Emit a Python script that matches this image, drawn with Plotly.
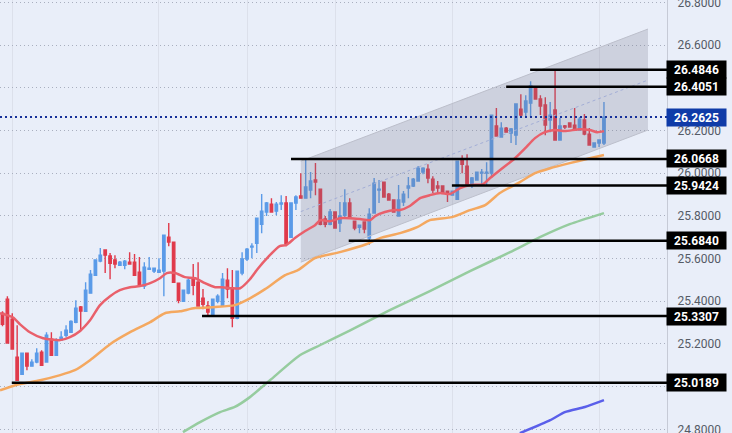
import plotly.graph_objects as go

# daily candles
opens = [25.344, 25.410, 25.316, 25.138, 25.058, 25.157, 25.096, 25.115, 25.162, 25.115,
         25.222, 25.147, 25.218, 25.241, 25.255, 25.302, 25.373, 25.353, 25.438, 25.522,
         25.588, 25.640, 25.612, 25.593, 25.569, 25.569, 25.583, 25.583, 25.536, 25.471,
         25.550, 25.541, 25.536, 25.541, 25.700, 25.677, 25.485, 25.400, 25.438, 25.508,
         25.489, 25.414, 25.378, 25.339, 25.400, 25.378, 25.499, 25.461, 25.320, 25.532,
         25.598, 25.654, 25.672, 25.761, 25.818, 25.855, 25.822, 25.855, 25.860, 25.700,
         25.860, 25.893, 25.883, 25.921, 25.968, 25.925, 25.785, 25.761, 25.818, 25.766,
         25.803, 25.860, 25.775, 25.747, 25.771, 25.696, 25.813, 25.921, 25.958, 25.902,
         25.874, 25.799, 25.865, 25.930, 25.940, 25.963, 26.005, 26.019, 25.972, 25.940,
         25.940, 25.916, 25.897, 25.878, 26.061, 26.033, 25.953, 25.968, 26.000, 26.000,
         26.000, 26.221, 26.169, 26.211, 26.188, 26.178, 26.300, 26.286, 26.328, 26.399,
         26.347, 26.319, 26.249, 26.296, 26.155, 26.221, 26.235, 26.225, 26.202, 26.249,
         26.183, 26.122, 26.141, 26.141]
highs = [25.353, 25.424, 25.344, 25.288, 25.157, 25.157, 25.129, 25.180, 25.171, 25.255,
         25.255, 25.227, 25.260, 25.288, 25.311, 25.405, 25.378, 25.489, 25.546, 25.593,
         25.649, 25.640, 25.626, 25.616, 25.588, 25.593, 25.630, 25.621, 25.607, 25.583,
         25.607, 25.558, 25.602, 25.712, 25.766, 25.677, 25.485, 25.452, 25.508, 25.574,
         25.583, 25.457, 25.400, 25.410, 25.433, 25.532, 25.555, 25.546, 25.541, 25.630,
         25.649, 25.672, 25.789, 25.902, 25.865, 25.883, 25.865, 25.897, 25.893, 25.862,
         25.897, 26.000, 26.070, 26.005, 26.047, 25.925, 25.799, 25.832, 25.818, 25.865,
         25.925, 25.883, 25.775, 25.756, 25.771, 25.836, 25.977, 25.968, 25.958, 25.907,
         25.874, 25.944, 25.916, 25.982, 25.977, 26.033, 26.028, 26.042, 25.986, 25.963,
         25.942, 25.916, 25.918, 26.056, 26.084, 26.089, 25.982, 26.007, 26.019, 26.051,
         26.272, 26.305, 26.239, 26.216, 26.211, 26.324, 26.370, 26.365, 26.431, 26.399,
         26.365, 26.356, 26.333, 26.487, 26.258, 26.225, 26.237, 26.305, 26.263, 26.277,
         26.211, 26.141, 26.155, 26.333]
lows = [25.283, 25.204, 25.176, 25.030, 25.058, 25.077, 25.096, 25.110, 25.100, 25.115,
        25.147, 25.147, 25.218, 25.232, 25.255, 25.297, 25.260, 25.353, 25.438, 25.522,
        25.583, 25.532, 25.503, 25.555, 25.565, 25.550, 25.574, 25.522, 25.480, 25.457,
        25.550, 25.532, 25.536, 25.424, 25.658, 25.489, 25.391, 25.400, 25.433, 25.428,
        25.378, 25.363, 25.335, 25.339, 25.391, 25.373, 25.414, 25.278, 25.316, 25.522,
        25.588, 25.602, 25.626, 25.719, 25.799, 25.818, 25.803, 25.827, 25.658, 25.696,
        25.827, 25.883, 25.883, 25.883, 25.897, 25.756, 25.747, 25.756, 25.743, 25.724,
        25.785, 25.789, 25.733, 25.719, 25.719, 25.663, 25.813, 25.860, 25.888, 25.874,
        25.818, 25.799, 25.846, 25.883, 25.935, 25.963, 25.995, 25.953, 25.907, 25.907,
        25.907, 25.865, 25.897, 25.878, 26.000, 25.949, 25.930, 25.968, 25.944, 25.944,
        25.977, 26.174, 26.169, 26.192, 26.141, 26.132, 26.263, 26.263, 26.263, 26.347,
        26.272, 26.178, 26.192, 26.155, 26.155, 26.207, 26.216, 26.202, 26.202, 26.178,
        26.132, 26.122, 26.122, 26.132]
closes = [25.292, 25.204, 25.176, 25.030, 25.157, 25.096, 25.115, 25.157, 25.100, 25.241,
          25.147, 25.218, 25.232, 25.264, 25.306, 25.368, 25.354, 25.452, 25.527, 25.593,
          25.616, 25.616, 25.578, 25.574, 25.583, 25.588, 25.574, 25.522, 25.480, 25.560,
          25.555, 25.555, 25.546, 25.710, 25.677, 25.489, 25.405, 25.452, 25.499, 25.475,
          25.378, 25.386, 25.349, 25.410, 25.424, 25.503, 25.457, 25.320, 25.541, 25.598,
          25.644, 25.658, 25.789, 25.822, 25.860, 25.818, 25.855, 25.860, 25.668, 25.860,
          25.888, 25.883, 25.935, 25.963, 25.958, 25.761, 25.761, 25.818, 25.743, 25.799,
          25.860, 25.789, 25.743, 25.756, 25.738, 25.808, 25.953, 25.925, 25.888, 25.874,
          25.818, 25.874, 25.902, 25.940, 25.972, 26.023, 26.023, 25.977, 25.921, 25.930,
          25.907, 25.907, 25.916, 26.056, 26.042, 25.949, 25.977, 26.005, 26.005, 26.005,
          26.272, 26.174, 26.211, 26.192, 26.207, 26.324, 26.272, 26.338, 26.408, 26.347,
          26.314, 26.225, 26.272, 26.155, 26.221, 26.216, 26.216, 26.202, 26.253, 26.183,
          26.132, 26.141, 26.155, 26.2625]
candles = list(range(len(opens)))

# moving averages, points picked along each line
ma_red_x = [-0.5, 2.1, 3.6, 5.6, 8.3, 11.8, 13.8, 15.8, 17.9, 19.9, 22, 24, 26.1, 28.1, 30.2, 32.2,
            33.6, 35.3, 37.3, 39.4, 41.4, 43.5, 44.9, 46.9, 48.6, 50.6, 52.3, 54.3, 56.7, 58,
            59.8, 61.9, 63.9, 65, 67, 69, 71.1, 73.1, 75.2, 76.2, 78.2, 80.3, 81.3, 83.3, 85.4,
            87.4, 89.5, 91.5, 93.6, 95.6, 98.3, 99.7, 101.7, 104.8, 106.9, 108.9, 110.9, 113,
            115, 118.1, 120.1, 121.6, 123]
ma_red = [25.344, 25.325, 25.292, 25.255, 25.227, 25.218, 25.232, 25.260, 25.311, 25.381, 25.424,
          25.452, 25.466, 25.471, 25.485, 25.508, 25.532, 25.532, 25.513, 25.508, 25.485, 25.466,
          25.466, 25.461, 25.461, 25.503, 25.555, 25.607, 25.658, 25.663, 25.696, 25.729, 25.756,
          25.780, 25.775, 25.789, 25.789, 25.785, 25.780, 25.799, 25.818, 25.827, 25.827, 25.846,
          25.883, 25.897, 25.907, 25.902, 25.930, 25.944, 25.949, 25.977, 26.014, 26.070, 26.117,
          26.164, 26.192, 26.202, 26.197, 26.206, 26.202, 26.192, 26.197]
ma_orange_x = [-0.5, 2.6, 7.7, 11.8, 14.8, 17.9, 22, 26.1, 30.2, 33.2, 36.3, 39.4, 43.5, 47.5, 50.6,
               53.7, 57.8, 60.4, 63.9, 69, 74.5, 77.2, 81.3, 84.8, 87.4, 91.9, 95.6, 98.7, 101.7,
               105.8, 108.9, 112, 116, 120.1, 123]
ma_orange = [24.983, 25.007, 25.030, 25.054, 25.077, 25.124, 25.199, 25.255, 25.302, 25.344, 25.353,
             25.368, 25.373, 25.382, 25.414, 25.457, 25.522, 25.546, 25.602, 25.630, 25.668, 25.696,
             25.719, 25.747, 25.780, 25.794, 25.827, 25.850, 25.907, 25.958, 26.000, 26.023, 26.047,
             26.070, 26.085]
ma_green_x = [36.9, 40.4, 44.5, 47.5, 50.6, 54.7, 60.8, 64.9, 71.1, 79.2, 87.4, 95.6, 103.8, 109.9, 116, 123]
ma_green = [24.787, 24.834, 24.881, 24.905, 24.951, 25.030, 25.147, 25.194, 25.264, 25.358, 25.447,
            25.541, 25.630, 25.700, 25.761, 25.813]
ma_blue_x = [105.8, 112, 115, 119.1, 123]
ma_blue = [24.782, 24.843, 24.881, 24.905, 24.937]

# rising channel
channel_x = [61, 132]
channel_top = [26.056, 26.675]
channel_mid = [25.820, 26.436]
channel_bottom = [25.583, 26.202]

# horizontal levels and where each one begins
levels = [26.4846, 26.4051, 26.0668, 25.9424, 25.6840, 25.3307, 25.0189]
level_starts = [107.9, 103, 59, 91.9, 70.8, 40.8, 1.9]
last_price = 26.2625

grid_x = [2, 32, 50, 68, 92, 122]
y_ticks = [24.8, 25.0, 25.2, 25.4, 25.6, 25.8, 26.0, 26.2, 26.4, 26.6, 26.8]
# 25.0000 and 26.4000 sit behind the level boxes
y_tick_labels = ["24.8000", "", "25.2000", "25.4000", "25.6000", "25.8000", "26.0000", "26.2000", "",
                 "26.6000", "26.8000"]

bg = "#E9EEF9"
x_range = [-0.51, 135.89]

fig = go.Figure()

fig.add_trace(go.Scatter(x=channel_x + channel_x[::-1], y=channel_top + channel_bottom[::-1],
                         fill="toself", fillcolor="rgba(115,118,140,0.24)",
                         mode="lines", line=dict(width=0)))
fig.add_trace(go.Scatter(x=channel_x, y=channel_top, mode="lines",
                         line=dict(color="#bcbfcb", width=1)))
fig.add_trace(go.Scatter(x=channel_x, y=channel_bottom, mode="lines",
                         line=dict(color="#bcbfcb", width=1)))
fig.add_trace(go.Scatter(x=channel_x, y=channel_mid, mode="lines",
                         line=dict(color="#a3aed6", width=1, dash="dot")))

fig.add_trace(go.Candlestick(x=candles, open=opens, high=highs, low=lows, close=closes,
                             increasing=dict(line=dict(color="#5B9BE8", width=1.4), fillcolor="#5B9BE8"),
                             decreasing=dict(line=dict(color="#E03A4B", width=1.4), fillcolor="#E03A4B")))

fig.add_trace(go.Scatter(x=ma_red_x, y=ma_red, mode="lines",
                         line=dict(color="#E9606B", width=2.5, shape="spline", smoothing=0.6)))
fig.add_trace(go.Scatter(x=ma_orange_x, y=ma_orange, mode="lines",
                         line=dict(color="#F4A860", width=2.5, shape="spline", smoothing=0.6)))
fig.add_trace(go.Scatter(x=ma_green_x, y=ma_green, mode="lines",
                         line=dict(color="#96CC9F", width=2.5, shape="spline", smoothing=0.6)))
fig.add_trace(go.Scatter(x=ma_blue_x, y=ma_blue, mode="lines",
                         line=dict(color="#5A5FEA", width=2.5, shape="spline", smoothing=0.6)))

for value, start in zip(levels, level_starts):
    fig.add_shape(type="line", xref="x", yref="y", x0=start, x1=x_range[1], y0=value, y1=value,
                  line=dict(color="black", width=2.5))
    fig.add_annotation(xref="paper", yref="y", x=0.9515, y=value, xanchor="center",
                       text="<b>%.4f</b>" % value, showarrow=False, width=57, height=15,
                       bgcolor="black", borderpad=1,
                       font=dict(family="Roboto", size=12, color="white"))

fig.add_shape(type="line", xref="x", yref="y", x0=x_range[0], x1=x_range[1], y0=last_price, y1=last_price,
              line=dict(color="#16309A", width=2, dash="2px,3px"))
fig.add_annotation(xref="paper", yref="y", x=0.9515, y=last_price, xanchor="center",
                   text="<b>%.4f</b>" % last_price, showarrow=False, width=57, height=15,
                   bgcolor="#0F3BA8", borderpad=1,
                   font=dict(family="Roboto", size=12, color="white"))

fig.update_layout(width=732, height=433, margin=dict(l=0, r=0, t=0, b=0),
                  paper_bgcolor=bg, plot_bgcolor=bg, showlegend=False,
                  font=dict(family="Roboto", size=12, color="#555b66"))
fig.update_xaxes(domain=[0, 667 / 732], range=x_range, rangeslider_visible=False, automargin=False,
                 tickmode="array", tickvals=grid_x, showticklabels=False, ticks="",
                 showgrid=True, gridcolor="#DCE0EB", gridwidth=1, zeroline=False)
fig.update_yaxes(side="right", range=[24.783, 26.811], tickmode="array", tickvals=y_ticks,
                 ticktext=y_tick_labels, showgrid=True, gridcolor="#A9AFBF", griddash="1px,3px", gridwidth=1,
                 showline=True, linecolor="#C6CAD6", linewidth=1, ticks="", zeroline=False, automargin=False,
                 ticklabeloverflow="allow", ticklabelstandoff=7)

fig.write_html("out.html", config=dict(displayModeBar=False),
               post_script="document.body.style.margin='0';")
